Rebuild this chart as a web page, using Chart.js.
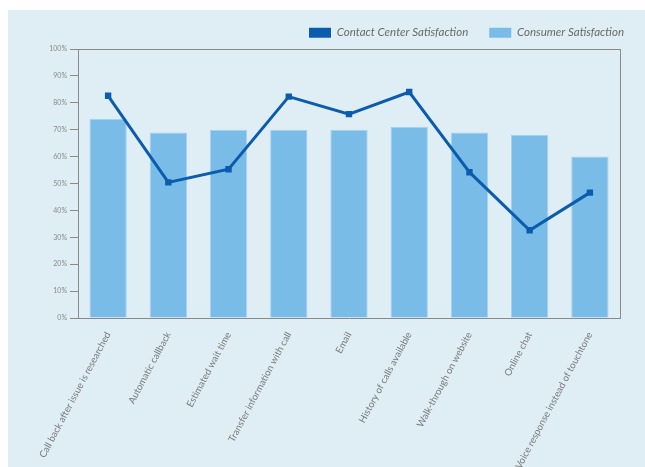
<!DOCTYPE html>
<html>
<head>
<meta charset="utf-8">
<script src="https://cdn.jsdelivr.net/npm/chart.js@4"></script>
<style>
  html, body { margin: 0; padding: 0; background: #ffffff; overflow: hidden; }
  #panel { position: absolute; left: 8px; top: 10px; width: 637px; height: 457px; background: #dfedf5; }
</style>
</head>
<body>
<div id="panel"><canvas id="satChart" width="637" height="457"></canvas></div>
<script>
let categories = ['Call back after issue is researched', 'Automatic callback', 'Estimated wait time',
    'Transfer information with call', 'Email', 'History of calls available',
    'Walk-through on website', 'Online chat', 'Voice response instead of touchtone'];
let contactCenter = [82.6, 50.4, 55.3, 82.3, 75.8, 84.0, 54.2, 32.6, 46.6];
let consumer = [74, 69, 70, 70, 70, 71, 69, 68, 60];
let yTicks = [0, 10, 20, 30, 40, 50, 60, 70, 80, 90, 100];

let axisGrey = '#8a8a8a';

// top frame line, the right one comes from the dummy axis
let topLine = {
    id : 'topLine',
    afterDraw(chart) {
        let a = chart.chartArea;
        let ctx = chart.ctx;
        ctx.save();
        ctx.strokeStyle = axisGrey;
        ctx.lineWidth = 1;
        ctx.beginPath();
        ctx.moveTo(a.left, a.top + 0.5);
        ctx.lineTo(a.right, a.top + 0.5);
        ctx.stroke();
        ctx.restore();
    }
};

// wide gap between legend items but keep the legend band short
let legendHeight = {
    id : 'legendHeight',
    afterInit(chart) {
        let lg = chart.legend;
        if (!lg) return;
        let fit = lg.fit;
        lg.fit = function () {
            fit.call(this);
            this.height = 43;
        };
    }
};

let chartContainer = document.getElementById('satChart').getContext('2d');

let config = {
    type : 'bar',
    data : {
        labels : categories,
        datasets : [{
            type : 'line',
            label : 'Contact Center Satisfaction',
            data : contactCenter,
            borderColor : '#0b5cad',
            backgroundColor : '#0b5cad',
            borderWidth : 3,
            pointStyle : 'rect',
            pointRadius : 4.5,
            pointBackgroundColor : '#0b5cad',
            pointBorderWidth : 0,
            tension : 0,
            order : 0
        }, {
            label : 'Consumer Satisfaction',
            data : consumer,
            backgroundColor : '#79bce8',
            borderColor : '#a6d2f0',
            borderWidth : 1,
            barPercentage : 0.62,
            categoryPercentage : 1,
            order : 1
        }]
    },
    options : {
        responsive : false,
        animation : false,
        layout : {padding : {top : -4, right : 0, left : 0, bottom : 0}},
        plugins : {
            legend : {
                position : 'top',
                align : 'end',
                labels : {
                    boxWidth : 22,
                    boxHeight : 10,
                    padding : 21,
                    color : '#6a6a6a',
                    font : {family : 'Lato', style : 'italic', size : 11.5},
                    generateLabels(chart) {
                        let items = Chart.defaults.plugins.legend.labels.generateLabels(chart);
                        items.forEach(it => { it.lineWidth = 0; });
                        return items;
                    }
                }
            },
            tooltip : {enabled : false}
        },
        scales : {
            x : {
                grid : {display : false},
                border : {color : axisGrey, width : 1},
                ticks : {
                    autoSkip : false,
                    maxRotation : 62,
                    minRotation : 62,
                    padding : 4,
                    color : '#7a7a7a',
                    font : {family : 'Lato', size : 9.6}
                },
                afterFit(s) { s.height = 149; }
            },
            y : {
                min : 0,
                max : 100,
                afterBuildTicks(s) { s.ticks = yTicks.map(v => ({value : v})); },
                grid : {drawOnChartArea : false, drawTicks : true, tickLength : 8, color : axisGrey},
                border : {color : axisGrey, width : 1},
                ticks : {
                    padding : 3,
                    color : '#8a8a8a',
                    font : {family : 'Lato', size : 7},
                    callback : v => v + '%'
                },
                afterFit(s) { s.width = 70; }
            },
            yR : {
                position : 'right',
                min : 0,
                max : 100,
                grid : {display : false},
                border : {color : axisGrey, width : 1},
                ticks : {display : false},
                afterFit(s) { s.width = 25; }
            }
        }
    },
    plugins : [topLine, legendHeight]
};

let chart = new Chart(chartContainer, config);
</script>
</body>
</html>
